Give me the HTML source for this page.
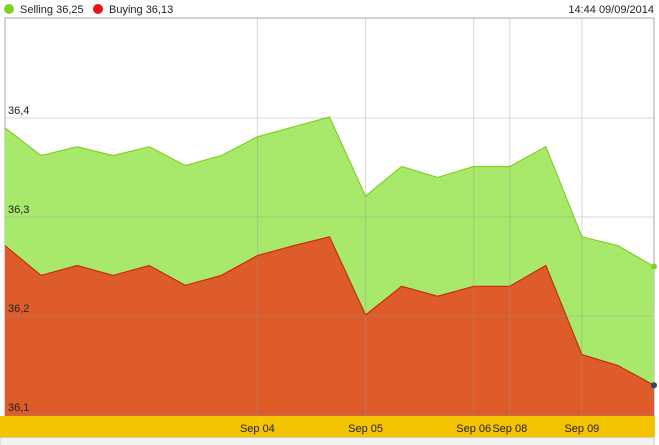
<!DOCTYPE html>
<html><head><meta charset="utf-8"><style>
body{margin:0;background:#fff;font-family:"Liberation Sans",Arial,sans-serif;}
svg{display:block}
text{font-family:"Liberation Sans",Arial,sans-serif;font-size:11px;fill:#222}
</style></head><body>
<svg id="c" width="659" height="445">
<rect x="0" y="437.5" width="654" height="8" fill="#f2f2f2" stroke="#ccc"/>
<g>
<circle cx="9" cy="9" r="5" fill="#7ed321"/>
<text x="20" y="13">Selling 36,25</text>
<circle cx="98" cy="9" r="5" fill="#ee1111"/>
<text x="109" y="13">Buying 36,13</text>
</g>
<text x="654" y="13" text-anchor="end">14:44 09/09/2014</text>
<g id="plot"></g>
</svg>
<script>
const values_selling=[36.390,36.362,36.371,36.362,36.371,36.352,36.362,36.381,36.391,36.401,36.321,36.351,36.340,36.351,36.351,36.371,36.280,36.271,36.250];
const values_buying=[36.271,36.241,36.251,36.241,36.251,36.231,36.241,36.261,36.271,36.280,36.201,36.230,36.220,36.230,36.230,36.251,36.161,36.150,36.130];
const xTickIndex=[7,10,13,14,16];
const xTickLabels=["Sep 04","Sep 05","Sep 06","Sep 08","Sep 09"];
const yTicks=[36.1,36.2,36.3,36.4];
const yTickLabels=["36,1","36,2","36,3","36,4"];
const L=5,R=654,T=18,B=416;
const xs=i=>L+(R-L)*i/(values_selling.length-1);
const ys=v=>415-(v-36.1)*990;
const NS="http://www.w3.org/2000/svg";
const g=document.getElementById('plot');
function mk(t,a){const e=document.createElementNS(NS,t);for(const k in a)e.setAttribute(k,a[k]);g.appendChild(e);return e;}
let e=mk('rect',{x:L,y:T,width:R-L,height:B-T,fill:'#fff',stroke:'#aaa'});


function area(vals,fill,stroke,name){
 let d='M'+xs(0)+','+B;
 vals.forEach((v,i)=>d+=' L'+xs(i)+','+ys(v));
 d+=' L'+xs(vals.length-1)+','+B+'Z';
 let a=mk('path',{d:d,fill:fill});
 
 
 let l=mk('polyline',{points:vals.map((v,i)=>xs(i)+','+ys(v)).join(' '),fill:'none',stroke:stroke,'stroke-width':1.2});
 
 
}
area(values_selling,'#a8e86a','#7ed321','selling');
area(values_buying,'#de5c2a','#cc2a10','buying');
yTicks.forEach((v,i)=>{
 let ln=mk('line',{x1:L,x2:R,y1:ys(v),y2:ys(v),stroke:'rgba(150,150,150,0.35)'});
 
 
 let t=mk('text',{x:8,y:ys(v)-4});t.textContent=yTickLabels[i];
 
 
});
let band=mk('rect',{x:0,y:416,width:655,height:21,fill:'#f5c400'});


xTickIndex.forEach((idx,i)=>{
 let ln=mk('line',{x1:xs(idx),x2:xs(idx),y1:T,y2:B,stroke:'rgba(150,150,150,0.35)'});
 
 
 let t=mk('text',{x:xs(idx),y:432,'text-anchor':'middle'});t.textContent=xTickLabels[i];
 
 
});
let n=values_selling.length-1;
let d1=mk('circle',{cx:xs(n),cy:ys(values_selling[n]),r:3,fill:'#7ed321'});


let d2=mk('circle',{cx:xs(n),cy:ys(values_buying[n]),r:3,fill:'#334466'});


</script>
</body></html>
